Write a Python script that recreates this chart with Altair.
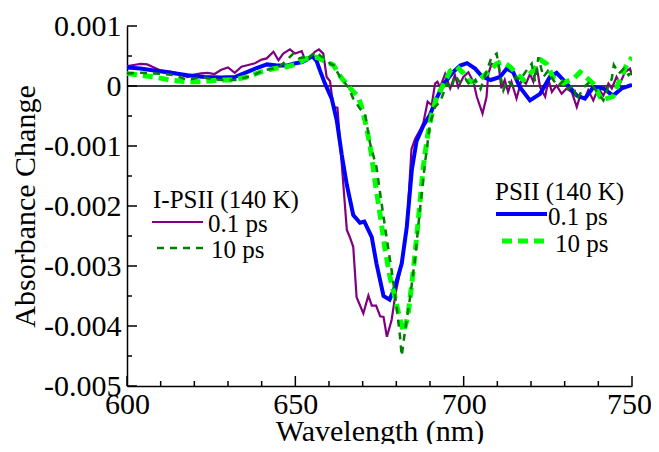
import altair as alt
import pandas as pd

# ---------------- data ----------------
# PSII (140 K), 0.1 ps  (blue, solid thick)
wl_b = [600, 604, 608, 613, 618, 623, 628, 632, 635.6, 638.5, 641.6, 644.5, 647.5, 649.4, 652, 653.5,
        655, 656.3, 657.3, 658.8, 660.8, 662.3, 663.8, 665.3, 667.2, 669.2, 670.5, 672.7, 674.1,
        676.2, 678, 679.6, 681.6, 683.1, 684.6, 686, 688, 690, 692, 694, 697, 699, 701, 703.4,
        705.4, 708, 710.8, 712.8, 714.7, 716.7, 719.7, 722.7, 725.6, 727.6, 730.6, 733.6, 736,
        738.5, 741.5, 744.4, 746.9, 750]
abs_b = [0.00031, 0.00029, 0.00026, 0.00022, 0.00018, 0.00015, 0.00014, 0.00015, 0.00023, 0.00030,
         0.00036, 0.00034, 0.00034, 0.00037, 0.00040, 0.00044, 0.00050, 0.00042, 0.00026, 0.00004,
         -0.00021, -0.00057, -0.00115, -0.00165, -0.00215, -0.00228, -0.00226, -0.00252, -0.00296,
         -0.00350, -0.00356, -0.00335, -0.00296, -0.00235, -0.00140, -0.00092, -0.00066, -0.00048,
         -0.00020, 0.00003, 0.00024, 0.00034, 0.00038, 0.00029, 0.00016, 0.00010, 0.00015, 0.00029,
         0.00023, -0.00002, -0.00024, -0.00013, 0.00015, 0.00022, 0.00004, -0.00016, -0.00021,
         -0.00002, -0.00004, -0.00016, -0.00004, 0.00002]

# PSII (140 K), 10 ps  (lime, dashed thick)
wl_l = [600, 604, 608, 613, 618, 622, 627.6, 631.6, 635.6, 639.5, 643.5, 647.4, 650.4, 653.4, 656.3,
        659.3, 661.3, 663.5, 666, 668.7, 669.7, 671.2, 672.5, 673.7, 675.2, 676.7, 678.1, 679.6,
        681.1, 682.2, 683.4, 685, 686.5, 688, 689.3, 690.6, 692, 694, 696, 698, 700, 701.9, 703.9,
        706.8, 709.8, 711.8, 713.8, 715.7, 717.7, 720.7, 723, 724.6, 726.6, 729.6, 732.6, 734.6,
        736.5, 738.7, 741, 744.4, 746.4, 748.4, 750]
abs_l = [0.00021, 0.00018, 0.00015, 0.00010, 0.00007, 0.00007, 0.00010, 0.00010, 0.00015, 0.00023,
         0.00029, 0.00032, 0.00037, 0.00046, 0.00048, 0.00040, 0.00035, 0.00015, -0.00002, -0.00018,
         -0.00035, -0.00070, -0.00110, -0.00160, -0.00215, -0.00274, -0.00318, -0.00352, -0.00390,
         -0.00410, -0.00385, -0.00310, -0.00225, -0.00135, -0.00082, -0.00045, -0.00018, 0.00002,
         0.00025, 0.00032, 0.00021, 0.00007, 0.00007, 0.00021, 0.00037, 0.00040, 0.00032, 0.00021,
         0.00010, 0.00026, 0.00043, 0.00037, 0.00014, 0.00005, 0.00012, 0.00023, 0.00014, 0.00003,
         -0.00024, -0.00017, 0.00011, 0.00035, 0.00048]

# I-PSII (140 K), 0.1 ps  (purple, thin solid)
wl_p = [600, 602, 604, 606, 608, 610, 612, 614, 616, 618, 620, 622, 624, 626, 628, 630, 632, 634,
        636, 638, 640, 641.5, 643.5, 645, 646.4, 648.4, 649.9, 651.9, 652.9, 654.4, 655.8, 657,
        658.3, 659.3, 660.3, 661.3, 662.5, 665.3, 666.2, 667.2, 668.2, 670.2, 671.7, 672.7, 674,
        675.2, 676.2, 677.2, 678.6, 679.8, 681.6, 683.1, 684.5, 685.6, 687, 688, 689.3, 690.5,
        691.5, 692.2, 693, 694.5, 696, 697.4, 698.4, 699.9, 701.4, 702.9, 703.9, 705.6, 706.8,
        707.3, 708.3, 709.3, 710.3, 711.2, 712.2, 713.2, 714.2, 715.7, 717.2, 718.5, 719.7, 720.7,
        721.7, 722.7, 724.2, 725.2, 726.2, 727.6, 729.1, 730.6, 732.1, 733.6, 734.6, 736, 737,
        738.5, 740, 741.5, 743, 744, 745.4, 746.4, 747.9, 749.4, 750]
abs_p = [0.00033, 0.00035, 0.00037, 0.00036, 0.00031, 0.00026, 0.00025, 0.00023, 0.00019, 0.00015,
         0.00019, 0.00021, 0.00022, 0.00020, 0.00027, 0.00031, 0.00022, 0.00032, 0.00035, 0.00038,
         0.00044, 0.00046, 0.00057, 0.00043, 0.00054, 0.00061, 0.00054, 0.00058, 0.00043, 0.00048,
         0.00057, 0.00061, 0.00054, 0.00015, 0.00008, -0.00035, -0.00036, -0.00240, -0.00252,
         -0.00268, -0.00352, -0.00379, -0.00349, -0.00366, -0.00366, -0.00384, -0.00385, -0.00418,
         -0.00390, -0.00345, -0.00296, -0.00240, -0.00105, -0.00088, -0.00074, -0.00062, -0.00026,
         -0.00032, 0.00004, 0.00007, -0.00002, 0.00020, -0.00004, 0.00018, -0.00002, 0.00015,
         0.00023, 0.00007, -0.00018, -0.00046, -0.00018, 0.00020, 0.00037, 0.00034, 0.00040,
         -0.00004, 0.00010, -0.00010, 0.00007, -0.00021, 0.00010, 0.00004, 0.00020, 0.00007,
         0.00032, -0.00002, -0.00018, 0.00010, -0.00010, 0.00001, -0.00013, -0.00004, -0.00010,
         -0.00035, -0.00016, -0.00021, -0.00007, -0.00024, -0.00004, -0.00016, 0.00004, -0.00004,
         0.00015, 0.00004, 0.00023, 0.00029, 0.00018]

# I-PSII (140 K), 10 ps  (dark green, thin dashed)
wl_g = [600, 604, 608, 611, 614, 618, 622, 625, 628, 632.6, 637.5, 640.5, 643.5, 645.5, 647.4, 649.4,
        651, 652.4, 653.4, 655, 656.3, 657.5, 659.3, 660.3, 661.3, 663.3, 665.7, 667.2, 669.2,
        670.7, 672.2, 674.1, 675.6, 677.1, 678.6, 680.1, 681.1, 681.6, 682.6, 684.1, 685.6, 687,
        688.5, 690, 691.5, 692.5, 693, 695, 696.4, 697.4, 699, 700.5, 702, 703.5, 705, 706.5,
        708.3, 709.8, 710.8, 711.8, 713, 714.5, 715.5, 716.7, 718.7, 720.2, 721.2, 722.2, 723.7,
        725, 726.6, 728, 729.5, 731, 732.6, 733.6, 734.6, 736, 737.5, 739, 740, 741.5, 743, 744,
        744.6, 746.1, 747.6, 749, 750]
abs_g = [0.00021, 0.00022, 0.00021, 0.00020, 0.00018, 0.00010, 0.00015, 0.00012, 0.00010, 0.00010,
         0.00018, 0.00026, 0.00029, 0.00033, 0.00043, 0.00054, 0.00046, 0.00048, 0.00043, 0.00052,
         0.00057, 0.00050, 0.00045, 0.00037, 0.00035, 0.00015, -0.00002, -0.00021, -0.00038,
         -0.00046, -0.00096, -0.00135, -0.00195, -0.00252, -0.00307, -0.00368, -0.00418, -0.00450,
         -0.00407, -0.00352, -0.00285, -0.00207, -0.00129, -0.00063, -0.00035, -0.00029, -0.00027,
         0.00004, -0.00004, 0.00018, 0.00005, 0.00012, 0.00000, 0.00010, -0.00005, 0.00020,
         0.00048, 0.00054, 0.00020, -0.00007, 0.00010, 0.00000, 0.00015, 0.00010, 0.00026,
         0.00037, 0.00008, 0.00048, 0.00015, 0.00025, 0.00010, 0.00000, 0.00008, -0.00005,
         0.00001, -0.00024, -0.00013, 0.00000, 0.00007, -0.00005, -0.00013, -0.00024, 0.00000,
         0.00012, 0.00035, 0.00021, 0.00029, 0.00018, 0.00023]

assert len(wl_b) == len(abs_b) and len(wl_l) == len(abs_l)
assert len(wl_p) == len(abs_p) and len(wl_g) == len(abs_g)

# axis ticks
x_major = [600, 650, 700, 750]
x_minor = [610, 620, 630, 640, 660, 670, 680, 690, 710, 720, 730, 740]
y_major = [-0.005, -0.004, -0.003, -0.002, -0.001, 0.0, 0.001]
y_minor = [-0.0045, -0.0035, -0.0025, -0.0015, -0.0005, 0.0005]

# legend texts
legend_left_title = "I-PSII (140 K)"
legend_right_title = "PSII (140 K)"
label_fast = "0.1 ps"
label_slow = "10 ps"

FONT = "Liberation Serif"
W, H = 505, 360

xscale = alt.Scale(domain=[600, 750], nice=False, zero=False)
yscale = alt.Scale(domain=[-0.005, 0.001], nice=False, zero=False)

xaxis = alt.Axis(values=x_major, ticks=False, grid=False, domain=True, domainColor="black",
                 domainWidth=1.5, labelFont=FONT, labelFontSize=30, labelColor="black",
                 labelPadding=3, labelFlush=False, format="d",
                 labelOffset={"condition": {"test": "datum.value == 750", "value": -3}, "value": 0},
                 title="Wavelength (nm)", titleFont=FONT, titleFontSize=30, titleFontWeight="normal",
                 titleColor="black", titleBaseline="alphabetic", titleY=54, titleX=W / 2)
yaxis = alt.Axis(values=y_major, ticks=False, grid=False, domain=True, domainColor="black",
                 domainWidth=1.5, labelFont=FONT, labelFontSize=30, labelColor="black",
                 labelPadding=6,
                 labelExpr="datum.value == 0 ? '0' : replace(format(datum.value, '.3f'), '\u2212', '-')",
                 title="Absorbance Change", titleFont=FONT, titleFontSize=30,
                 titleFontWeight="normal", titleColor="black", titleBaseline="alphabetic",
                 titleX=-93, titleY=H / 2, titleAngle=-90, titleAlign="center")

X = alt.X("wl:Q", scale=xscale, axis=xaxis)
Y = alt.Y("v:Q", scale=yscale, axis=yaxis)


def series(wl, vals, color, width, dash=None):
    df = pd.DataFrame({"wl": wl, "v": vals})
    kw = dict(color=color, strokeWidth=width, clip=True)
    if dash:
        kw["strokeDash"] = dash
    return alt.Chart(df).mark_line(**kw).encode(x=X, y=Y, order="wl:Q")


purple = series(wl_p, abs_p, "#800080", 2.2)
blue = series(wl_b, abs_b, "#0000FF", 4)
lime = series(wl_l, abs_l, "#00FF00", 5, [10, 6])
green = series(wl_g, abs_g, "#007F00", 2.5, [7, 6])

zero = alt.Chart(pd.DataFrame({"v": [0.0]})).mark_rule(color="black", strokeWidth=1.3).encode(y=Y)

# inward ticks
xt_major = alt.Chart(pd.DataFrame({"wl": x_major})).mark_rule(color="black", strokeWidth=1.5).encode(
    x=X, y=alt.value(H), y2=alt.value(H - 10))
xt_minor = alt.Chart(pd.DataFrame({"wl": x_minor})).mark_rule(color="black", strokeWidth=1.5).encode(
    x=X, y=alt.value(H), y2=alt.value(H - 5))
yt_major = alt.Chart(pd.DataFrame({"v": y_major})).mark_rule(color="black", strokeWidth=1.5).encode(
    y=Y, x=alt.value(0), x2=alt.value(10))
yt_minor = alt.Chart(pd.DataFrame({"v": y_minor})).mark_rule(color="black", strokeWidth=1.5).encode(
    y=Y, x=alt.value(0), x2=alt.value(5))

one = pd.DataFrame({"a": [0]})


def ltext(txt, x, y):
    return alt.Chart(one).mark_text(text=txt, font=FONT, fontSize=25, color="black", align="left",
                                    baseline="alphabetic").encode(x=alt.value(x), y=alt.value(y))


def lline(x1, x2, y, color, width, dash=None):
    kw = dict(color=color, strokeWidth=width)
    if dash:
        kw["strokeDash"] = dash
    return alt.Chart(one).mark_rule(**kw).encode(x=alt.value(x1), x2=alt.value(x2), y=alt.value(y))


legend = [
    ltext(legend_left_title, 26, 182),
    lline(25, 76, 196, "#800080", 2.2),
    ltext(label_fast, 81, 206),
    lline(30, 76, 222, "#007F00", 2.5, [7, 6]),
    ltext(label_slow, 84, 232),
    ltext(legend_right_title, 368, 174),
    lline(369, 420, 188, "#0000FF", 4),
    ltext(label_fast, 421, 199),
    lline(375, 420, 215, "#00FF00", 5, [10, 6]),
    ltext(label_slow, 428, 226),
]

chart = alt.layer(
    zero, purple, blue, lime, green, xt_major, xt_minor, yt_major, yt_minor, *legend
).properties(
    width=W, height=H,
    autosize=alt.AutoSizeParams(type="none"),
    padding={"left": 119, "top": 18, "right": 19, "bottom": 58},
    background="white",
).configure_view(stroke=None)

chart.save("out.html", embed_options={"renderer": "svg", "actions": False})
